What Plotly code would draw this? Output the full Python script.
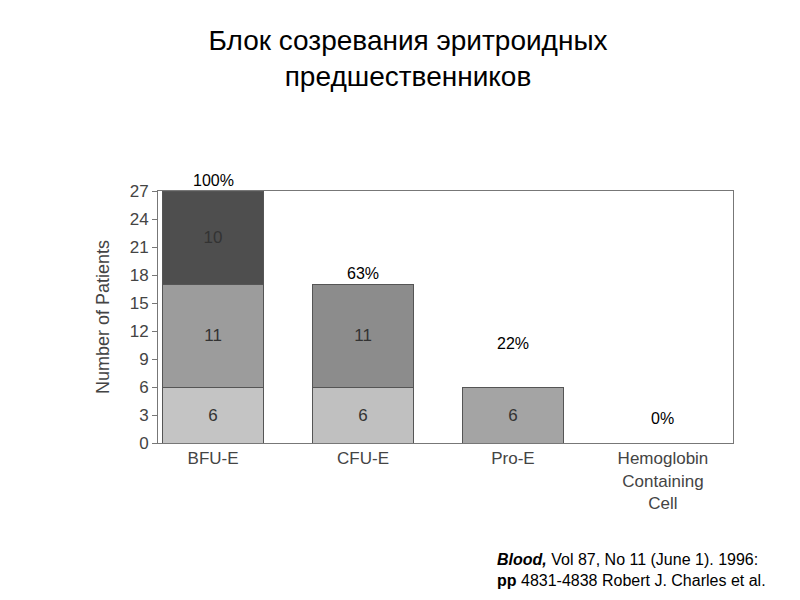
import plotly.graph_objects as go

categories = ["BFU-E", "CFU-E", "Pro-E", "Hemoglobin<br>Containing<br>Cell"]
bottom_vals = [6, 6, 6, 0]
middle_vals = [11, 11, 0, 0]
top_vals = [10, 0, 0, 0]
percent_labels = ["100%", "63%", "22%", "0%"]
y_ticks = list(range(0, 28, 3))

x = list(range(len(categories)))
fig = go.Figure()
line = dict(color="#555", width=1)
def txt(vals):
    return [str(v) if v else "" for v in vals]
fig.add_bar(x=x, y=bottom_vals, width=0.67, text=txt(bottom_vals),
            marker=dict(color=["#c4c4c4", "#c0c0c0", "#a4a4a4", "#c4c4c4"], line=line))
fig.add_bar(x=x, y=middle_vals, width=0.67, text=txt(middle_vals),
            marker=dict(color=["#9c9c9c", "#8c8c8c", "#999", "#999"], line=line))
fig.add_bar(x=x, y=top_vals, width=0.67, text=txt(top_vals),
            marker=dict(color="#4e4e4e", line=line))
fig.update_traces(textposition="inside", insidetextanchor="middle",
                  textfont=dict(family="Arial", size=17, color="#333"))

totals = [b + m + t for b, m, t in zip(bottom_vals, middle_vals, top_vals)]
pct_y = [27, 17, 9.5, 1.5]
for i, (p, yy) in enumerate(zip(percent_labels, pct_y)):
    fig.add_annotation(x=i, y=yy, text=p, showarrow=False, yanchor="bottom",
                       font=dict(family="Liberation Sans", size=16, color="black"))
for i in range(3):
    fig.add_annotation(x=i + 0.85, y=-2.4, ax=i + 0.38, ay=-2.4, xref="x", yref="y",
                       axref="x", ayref="y", text="", showarrow=True,
                       arrowhead=2, arrowsize=1.2, arrowwidth=1.2, arrowcolor="#444")

fig.update_layout(
    width=800, height=600, barmode="stack", showlegend=False,
    plot_bgcolor="white", paper_bgcolor="white",
    margin=dict(l=150, r=75, t=183, b=165),
    title=dict(text="Блок созревания эритроидных<br>предшественников", x=0.5, xanchor="center",
               y=0.93, yanchor="top",
               font=dict(family="Liberation Sans", size=28, color="black")),
)
fig.update_xaxes(range=[-0.367, 3.467], tickvals=x, ticktext=categories,
                 showline=True, linecolor="#777", mirror=True, ticks="",
                 tickfont=dict(family="Arial", size=17, color="#444"))
fig.update_yaxes(range=[0, 27], tickvals=y_ticks, showgrid=False, showline=True,
                 linecolor="#777", mirror=True, ticks="outside", ticklen=5, tickcolor="#777",
                 tickfont=dict(family="Arial", size=17, color="#444"),
                 title=dict(text="Number of Patients", font=dict(family="Arial", size=18, color="#444")))
fig.add_annotation(xref="paper", yref="paper", x=1.06, y=-0.42, xanchor="right", yanchor="top",
                   showarrow=False, align="left",
                   text="<b><i>Blood,</i></b> Vol 87, No 11 (June 1). 1996:<br><b>pp</b> 4831-4838 Robert J. Charles et al.",
                   font=dict(family="Liberation Sans", size=16, color="black"))
fig.write_html("out.html")
